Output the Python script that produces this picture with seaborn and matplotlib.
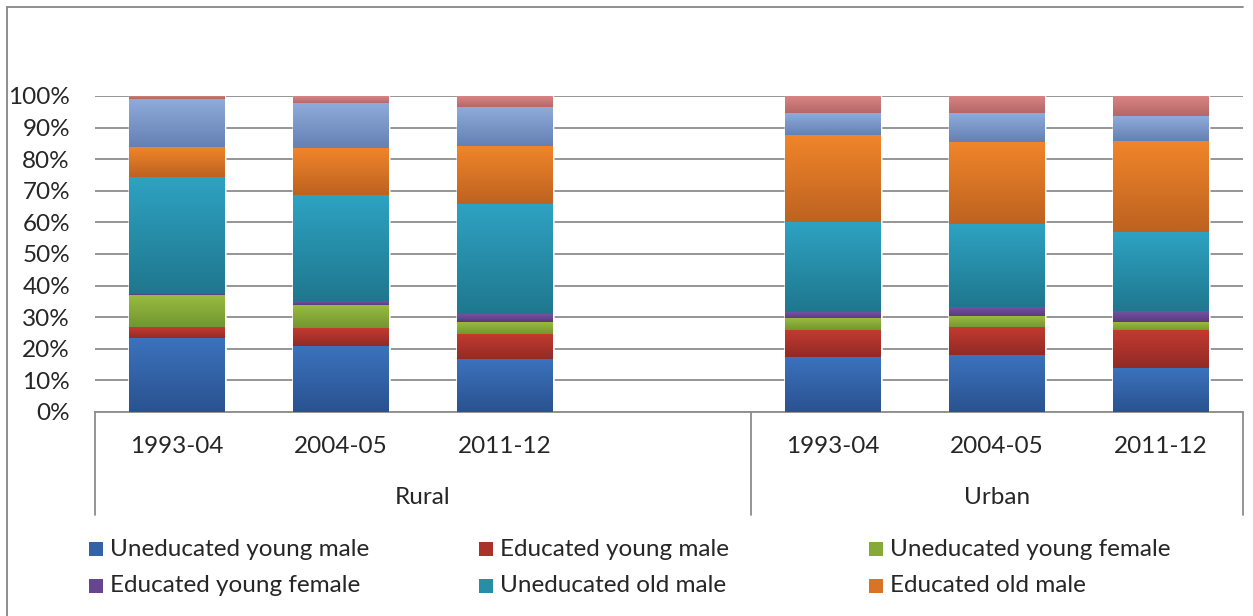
import numpy as np
import pandas as pd
import matplotlib
matplotlib.use("Agg")
import matplotlib.pyplot as plt
import matplotlib.transforms as mtransforms
from matplotlib.colors import to_rgb
from matplotlib.lines import Line2D
from matplotlib.patches import Rectangle
import seaborn as sns

# ------------------------------------------------------------------ data
periods = ["1993-04", "2004-05", "2011-12"]
areas = ["Rural", "Urban"]

series_names = [
    "Uneducated young male",
    "Educated young male",
    "Uneducated young female",
    "Educated young female",
    "Uneducated old male",
    "Educated old male",
    "Uneducated old female",
    "Educated old female",
]

# shares in %, order: Rural 1993-04, 2004-05, 2011-12, Urban 1993-04, 2004-05, 2011-12
uned_young_male = [23.2, 20.8, 16.5, 17.3, 17.9, 13.9]
ed_young_male = [3.7, 5.7, 8.2, 8.5, 8.8, 11.8]
uned_young_female = [10.0, 7.1, 3.7, 3.7, 3.5, 2.6]
ed_young_female = [0.5, 1.4, 2.3, 2.1, 2.9, 3.5]
uned_old_male = [37.0, 33.7, 35.1, 28.3, 26.1, 25.3]
ed_old_male = [9.4, 14.8, 18.3, 27.7, 26.1, 28.7]
uned_old_female = [15.1, 14.2, 12.2, 6.8, 8.9, 7.6]
ed_old_female = [1.1, 2.4, 3.7, 5.6, 5.8, 6.6]

series_values = [uned_young_male, ed_young_male, uned_young_female, ed_young_female,
                 uned_old_male, ed_old_male, uned_old_female, ed_old_female]

# (top, bottom) colours of the Excel-style gradient fill
series_colors = [
    ("#3b72bd", "#2a5290"),
    ("#c23a30", "#922a25"),
    ("#98bb40", "#739630"),
    ("#7452a2", "#56397c"),
    ("#2ea2c2", "#1f778e"),
    ("#f0852a", "#bd6220"),
    ("#8fabdc", "#6580b2"),
    ("#d98484", "#b36565"),
]
n_legend = 6  # the legend in the original is cut after six entries

# ------------------------------------------------------------------ table
slot_order = ["Rural 1993-04", "Rural 2004-05", "Rural 2011-12", "gap",
              "Urban 1993-04", "Urban 2004-05", "Urban 2011-12"]
slots = [f"{a} {p}" for a in areas for p in periods]

rows = []
for name, vals in zip(series_names, series_values):
    for slot, v in zip(slots, vals):
        rows.append({"slot": slot, "series": name, "value": v})
df = pd.DataFrame(rows)
df["share"] = df["value"] / df.groupby("slot")["value"].transform("sum")
df["top"] = df.groupby("slot")["share"].cumsum()
df["bottom"] = df["top"] - df["share"]

# ------------------------------------------------------------------ plot
sns.set_theme(style="white")
plt.rcParams["font.family"] = ["Lato", "DejaVu Sans"]
FS = 17.5
GRID = "#8c8c8c"

fig = plt.figure(figsize=(12.53, 6.16), dpi=100)
ax = fig.add_axes([95 / 1253, 1 - 412 / 616, 1148 / 1253, 316 / 616])

BAR_W = 0.58
handles = {}
# tallest cumulative first so each lower segment sits on top of it
for name, (c_top, c_bot) in reversed(list(zip(series_names, series_colors))):
    sub = df[df["series"] == name]
    mid = tuple((np.array(to_rgb(c_top)) + np.array(to_rgb(c_bot))) / 2)
    sns.barplot(data=sub, x="slot", y="top", order=slot_order, color=mid,
                saturation=1, width=BAR_W, errorbar=None, ax=ax, zorder=2)
    handles[name] = mid

    # gradient overlay for every segment of this series
    ramp = np.linspace(to_rgb(c_top), to_rgb(c_bot), 64).reshape(64, 1, 3)
    for _, r in sub.iterrows():
        xc = slot_order.index(r["slot"])
        ax.imshow(ramp, extent=(xc - BAR_W / 2, xc + BAR_W / 2, r["bottom"], r["top"]),
                  aspect="auto", interpolation="bilinear", origin="upper", zorder=3)

ax.set_xlim(-0.5, len(slot_order) - 0.5)
ax.set_ylim(0, 1)

# y axis
yt = np.arange(0, 1.01, 0.1)
ax.set_yticks(yt)
ax.set_yticklabels([f"{int(round(v * 100))}%" for v in yt], fontsize=FS)
ax.tick_params(axis="y", length=0, pad=18)
ax.yaxis.grid(True, color=GRID, linewidth=1.3)
ax.set_axisbelow(True)

# x axis: years + group level
year_labels = [p for p in periods] + [""] + [p for p in periods]
ax.set_xticks(range(len(slot_order)))
ax.set_xticklabels(year_labels, fontsize=FS)
ax.tick_params(axis="x", length=0, pad=17)
ax.set_xlabel("")
ax.set_ylabel("")

for side in ["top", "right", "left"]:
    ax.spines[side].set_visible(False)
ax.spines["bottom"].set_color(GRID)
ax.spines["bottom"].set_linewidth(1.3)

trans = mtransforms.blended_transform_factory(ax.transData, ax.transAxes)
for xb in [-0.5, 3.5, len(slot_order) - 0.5]:
    ax.plot([xb, xb], [0, -0.326], transform=trans, color=GRID, lw=1.3, clip_on=False)
ax.text(1.5, -0.269, "Rural", transform=trans, ha="center", va="center", fontsize=FS)
ax.text(5.0, -0.269, "Urban", transform=trans, ha="center", va="center", fontsize=FS)

# legend (equal-width columns like Excel)
W, H = 1253, 616
col_x = [89, 479, 869]
row_y = [549, 586]
for i, name in enumerate(series_names[:n_legend]):
    px = col_x[i % 3]
    py = row_y[i // 3]
    fig.patches.append(Rectangle((px / W, 1 - (py + 7) / H), 14 / W, 14 / H,
                                 transform=fig.transFigure, facecolor=handles[name],
                                 edgecolor="none"))
    fig.text((px + 21) / W, 1 - py / H, name, fontsize=FS, va="center", ha="left")

# chart area border (left and top visible in the original crop)
fig.add_artist(Line2D([7 / W, 7 / W], [0, 1 - 7 / H], transform=fig.transFigure,
                      color="#868686", lw=1.3))
fig.add_artist(Line2D([7 / W, 1243 / W], [1 - 7 / H, 1 - 7 / H], transform=fig.transFigure,
                      color="#868686", lw=1.3))

fig.savefig("out.png", dpi=100, facecolor="white")
